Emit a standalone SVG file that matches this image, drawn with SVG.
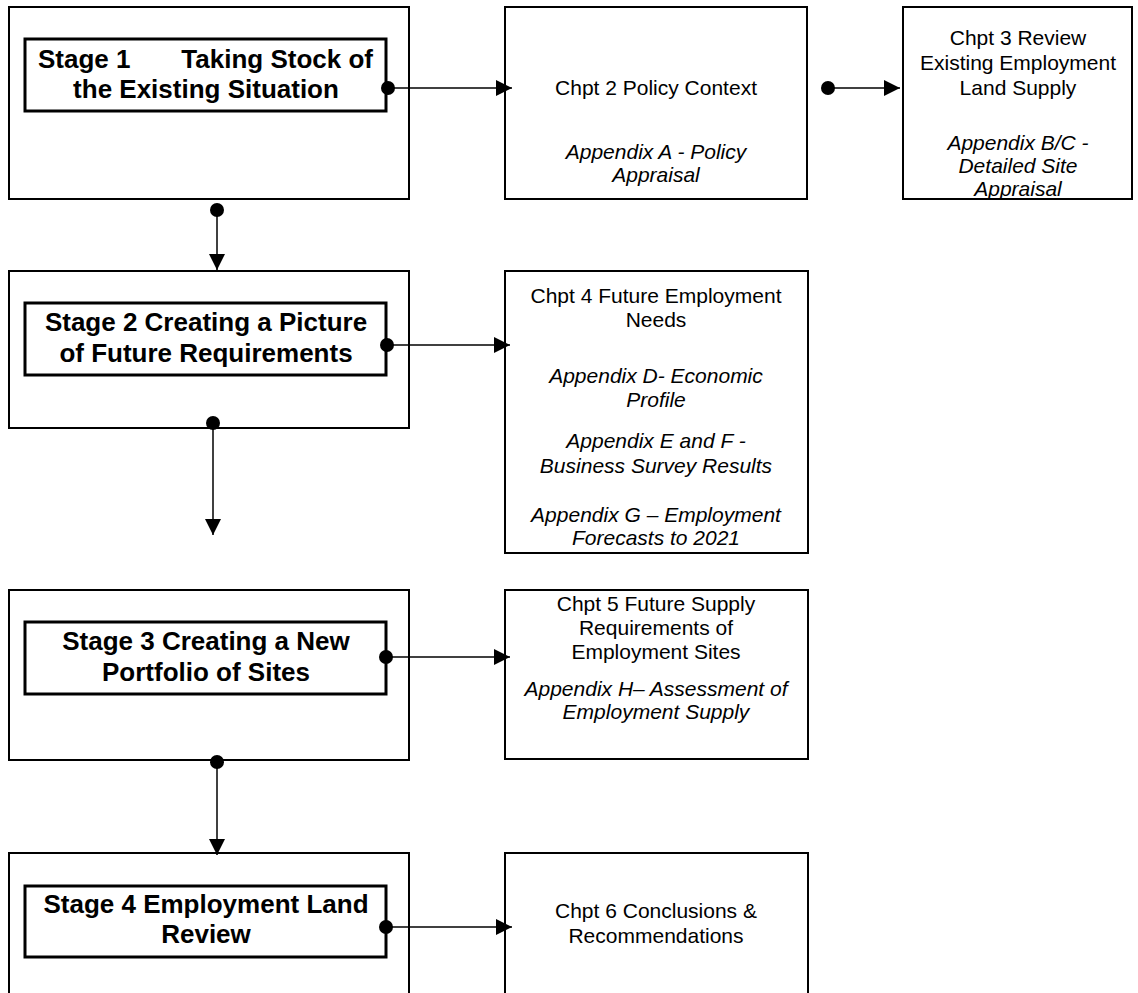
<svg xmlns="http://www.w3.org/2000/svg" width="1138" height="993" viewBox="0 0 1138 993">
<style>
.outer{fill:none;stroke:#000;stroke-width:2}
.inner{fill:#fff;stroke:#000;stroke-width:3}
.stage{font-family:"Liberation Sans",Arial,sans-serif;font-weight:bold;font-size:26px;text-anchor:middle;fill:#000}
.chpt{font-family:"Liberation Sans",Arial,sans-serif;font-size:21px;text-anchor:middle;fill:#000}
.app{font-style:italic}
.conn{stroke:#000;stroke-width:1.5;fill:none;marker-start:url(#dot);marker-end:url(#arrow)}
</style>
<defs>
<marker id="arrow" markerUnits="userSpaceOnUse" viewBox="0 0 16 16" markerWidth="16" markerHeight="16" refX="16" refY="8" orient="auto"><path d="M0,0 L16,8 L0,16 z" fill="#000"/></marker>
<marker id="dot" markerUnits="userSpaceOnUse" viewBox="0 0 16 16" markerWidth="16" markerHeight="16" refX="8" refY="8"><circle cx="8" cy="8" r="7" fill="#000"/></marker>
</defs>
<rect width="1138" height="993" fill="#fff"/>

<g id="stage1">
<rect class="outer" x="9" y="7" width="400" height="192"/>
<rect class="inner" x="25" y="39" width="361" height="72"/>
<text class="stage" x="38" y="68" style="text-anchor:start">Stage 1</text>
<text class="stage" x="373" y="68" style="text-anchor:end">Taking Stock of</text>
<text class="stage" x="206" y="98">the Existing Situation</text>
</g>

<g id="chpt2">
<rect class="outer" x="505" y="7" width="302" height="192"/>
<text class="chpt" x="656" y="95">Chpt 2 Policy Context</text>
<text class="chpt app" x="656" y="159">Appendix A - Policy</text>
<text class="chpt app" x="656" y="182">Appraisal</text>
</g>

<g id="chpt3">
<rect class="outer" x="903" y="7" width="229" height="192"/>
<text class="chpt" x="1018" y="45">Chpt 3 Review</text>
<text class="chpt" x="1018" y="70">Existing Employment</text>
<text class="chpt" x="1018" y="95">Land Supply</text>
<text class="chpt app" x="1018" y="150">Appendix B/C -</text>
<text class="chpt app" x="1018" y="173">Detailed Site</text>
<text class="chpt app" x="1018" y="196">Appraisal</text>
</g>

<g id="stage2">
<rect class="outer" x="9" y="271" width="400" height="157"/>
<rect class="inner" x="25" y="303" width="361" height="72"/>
<text class="stage" x="206" y="331">Stage 2 Creating a Picture</text>
<text class="stage" x="206" y="362">of Future Requirements</text>
</g>

<g id="chpt4">
<rect class="outer" x="505" y="271" width="303" height="282"/>
<text class="chpt" x="656" y="303">Chpt 4 Future Employment</text>
<text class="chpt" x="656" y="327">Needs</text>
<text class="chpt app" x="656" y="383">Appendix D- Economic</text>
<text class="chpt app" x="656" y="407">Profile</text>
<text class="chpt app" x="656" y="448">Appendix E and F -</text>
<text class="chpt app" x="656" y="473">Business Survey Results</text>
<text class="chpt app" x="656" y="522">Appendix G – Employment</text>
<text class="chpt app" x="656" y="545">Forecasts to 2021</text>
</g>

<g id="stage3">
<rect class="outer" x="9" y="590" width="400" height="170"/>
<rect class="inner" x="25" y="622" width="361" height="72"/>
<text class="stage" x="206" y="650">Stage 3 Creating a New</text>
<text class="stage" x="206" y="681">Portfolio of Sites</text>
</g>

<g id="chpt5">
<rect class="outer" x="505" y="590" width="303" height="169"/>
<text class="chpt" x="656" y="611">Chpt 5 Future Supply</text>
<text class="chpt" x="656" y="635">Requirements of</text>
<text class="chpt" x="656" y="659">Employment Sites</text>
<text class="chpt app" x="656" y="696">Appendix H– Assessment of</text>
<text class="chpt app" x="656" y="719">Employment Supply</text>
</g>

<g id="stage4">
<rect class="outer" x="9" y="853" width="400" height="160"/>
<rect class="inner" x="25" y="886" width="361" height="71"/>
<text class="stage" x="206" y="913">Stage 4 Employment Land</text>
<text class="stage" x="206" y="943">Review</text>
</g>

<g id="chpt6">
<rect class="outer" x="505" y="853" width="303" height="160"/>
<text class="chpt" x="656" y="918">Chpt 6 Conclusions &amp;</text>
<text class="chpt" x="656" y="943">Recommendations</text>
</g>

<g id="connectors">
<path class="conn" d="M388,88 L512,88"/>
<path class="conn" d="M828,88 L900,88"/>
<path class="conn" d="M217,210 L217,270"/>
<path class="conn" d="M387,345 L510,345"/>
<path class="conn" d="M213,423 L213,535"/>
<path class="conn" d="M386,657 L510,657"/>
<path class="conn" d="M217,762 L217,855"/>
<path class="conn" d="M386,927 L512,927"/>
</g>
</svg>
